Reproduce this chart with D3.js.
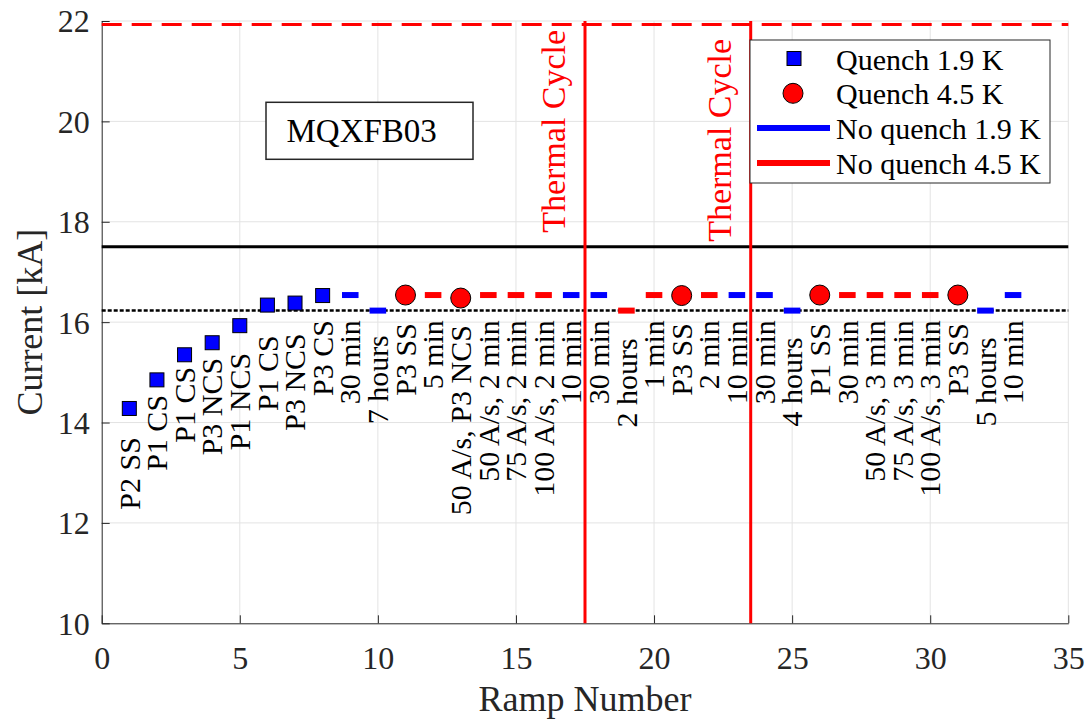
<!DOCTYPE html>
<html>
<head>
<meta charset="utf-8">
<script src="https://cdn.jsdelivr.net/npm/d3@7"></script>
<style>
	body { margin: 0; background: #fff; }
	svg { display: block; }
	svg text { font-family: "Liberation Serif", "Times New Roman", "DejaVu Serif", serif; }
</style>
</head>
<body>
<div id="graph"></div>
<script>
// quench / no-quench currents per ramp
const quench19Ramp = [1, 2, 3, 4, 5, 6, 7, 8];
const quench19Current = [14.28, 14.85, 15.35, 15.59, 15.93, 16.34, 16.38, 16.53];
const quench45Ramp = [11, 13, 21, 26, 31];
const quench45Current = [16.54, 16.48, 16.53, 16.54, 16.54];
const noQuench19Ramp = [9, 10, 17, 18, 23, 24, 25, 32, 33];
const noQuench19Current = [16.54, 16.23, 16.54, 16.54, 16.54, 16.54, 16.23, 16.23, 16.54];
const noQuench45Ramp = [12, 14, 15, 16, 19, 20, 22, 27, 28, 29, 30];
const noQuench45Current = [16.54, 16.54, 16.54, 16.54, 16.23, 16.54, 16.54, 16.54, 16.54, 16.54, 16.54];

// reference levels
const nominalCurrent = 16.23;
const ultimateCurrent = 17.5;
const limitCurrent = 21.93;

// thermal cycles
const thermalRamp = [17.5, 23.5];
const thermalLabelAt = [17.78, 17.6];

// text under each ramp
const rampLabels = [
	"P2 SS", "P1 CS", "P1 CS", "P3 NCS", "P1 NCS", "P1 CS", "P3 NCS", "P3 CS",
	"30 min", "7 hours", "P3 SS", "5 min", "50 A/s, P3 NCS", "50 A/s, 2 min",
	"75 A/s, 2 min", "100 A/s, 2 min", "10 min", "30 min", "2 hours", "1 min",
	"P3 SS", "2 min", "10 min", "30 min", "4 hours", "P1 SS", "30 min",
	"50 A/s, 3 min", "75 A/s, 3 min", "100 A/s, 3 min", "P3 SS", "5 hours", "10 min"
];
const rampLabelAt = [
	13.71, 14.55, 15.11, 15.29, 15.39, 15.74, 15.78, 16.04, 16.04, 15.74,
	15.98, 16.04, 15.94, 16.04, 16.04, 16.04, 16.04, 16.04, 15.68, 16.04,
	15.98, 16.04, 16.04, 16.04, 15.70, 15.98, 16.04, 16.04, 16.04, 16.04,
	15.98, 15.70, 16.04
];

const xTicks = [0, 5, 10, 15, 20, 25, 30, 35];
const yTicks = [10, 12, 14, 16, 18, 20, 22];

const legendNames = ["Quench 1.9 K", "Quench 4.5 K", "No quench 1.9 K", "No quench 4.5 K"];
const magnetName = "MQXFB03";

function chart() {
	const width = 1086;
	const height = 721;
	const ink = "#262626";

	const x = d3.scaleLinear([0, 35], [101.7, 1068.3]);
	const y = d3.scaleLinear([10, 22], [623.3, 21]);

	const svg = d3
		.select("#graph")
		.append("svg")
		.attr("width", width)
		.attr("height", height)
		.attr("viewBox", [0, 0, width, height]);

	// grid
	svg
		.append("g")
		.attr("stroke", "#e3e3e3")
		.attr("stroke-width", 1)
		.call((g) =>
			g.selectAll(".gx").data(xTicks.slice(1)).join("line")
				.attr("x1", (d) => x(d)).attr("x2", (d) => x(d))
				.attr("y1", y(10)).attr("y2", y(22))
		)
		.call((g) =>
			g.selectAll(".gy").data(yTicks.slice(1)).join("line")
				.attr("class", "gy")
				.attr("x1", x(0)).attr("x2", x(35))
				.attr("y1", (d) => y(d)).attr("y2", (d) => y(d))
		);

	// axes
	const xAxis = d3.axisBottom(x).tickValues(xTicks).tickSize(-8).tickPadding(20).tickSizeOuter(0);
	const yAxis = d3.axisLeft(y).tickValues(yTicks).tickSize(-8).tickPadding(12).tickSizeOuter(0);

	svg
		.append("g")
		.attr("transform", `translate(0,${y(10)})`)
		.call(xAxis)
		.call((g) => g.select(".domain").attr("stroke", ink))
		.call((g) => g.selectAll(".tick line").attr("stroke", ink))
		.call((g) =>
			g.selectAll(".tick text")
				.attr("fill", ink)
				.attr("font-size", 32)
				.attr("dy", null)
				.attr("y", 46)
		);

	svg
		.append("g")
		.attr("transform", `translate(${x(0)},0)`)
		.call(yAxis)
		.call((g) => g.select(".domain").attr("stroke", ink))
		.call((g) => g.selectAll(".tick line").attr("stroke", ink))
		.call((g) =>
			g.selectAll(".tick text")
				.attr("fill", ink)
				.attr("font-size", 32)
				.attr("dy", "0.34em")
		);

	svg
		.append("text")
		.attr("x", (x(0) + x(35)) / 2)
		.attr("y", 711)
		.attr("text-anchor", "middle")
		.attr("font-size", 36)
		.attr("fill", ink)
		.text("Ramp Number");

	svg
		.append("text")
		.attr("transform", `translate(42,${(y(10) + y(22)) / 2}) rotate(-90)`)
		.attr("text-anchor", "middle")
		.attr("font-size", 36)
		.attr("fill", ink)
		.text("Current [kA]");

	// reference lines
	svg.append("line")
		.attr("x1", x(0)).attr("x2", x(35))
		.attr("y1", y(limitCurrent)).attr("y2", y(limitCurrent))
		.attr("stroke", "#ff0000").attr("stroke-width", 3)
		.attr("stroke-dasharray", "20,10");

	svg.append("line")
		.attr("x1", x(0)).attr("x2", x(35))
		.attr("y1", y(ultimateCurrent)).attr("y2", y(ultimateCurrent))
		.attr("stroke", "#000").attr("stroke-width", 3);

	svg.append("line")
		.attr("x1", x(0)).attr("x2", x(35))
		.attr("y1", y(nominalCurrent)).attr("y2", y(nominalCurrent))
		.attr("stroke", "#000").attr("stroke-width", 2.5)
		.attr("stroke-dasharray", "4,2");

	// thermal cycles
	svg
		.append("g")
		.selectAll("line")
		.data(thermalRamp)
		.join("line")
		.attr("x1", (d) => x(d)).attr("x2", (d) => x(d))
		.attr("y1", y(10)).attr("y2", y(22))
		.attr("stroke", "#ff0000").attr("stroke-width", 3);

	svg
		.append("g")
		.selectAll("text")
		.data(thermalRamp)
		.join("text")
		.attr("transform", (d, i) => `translate(${x(d) - 20},${y(thermalLabelAt[i])}) rotate(-90)`)
		.attr("font-size", 34)
		.attr("fill", "#ff0000")
		.text("Thermal Cycle");

	// ramp labels
	svg
		.append("g")
		.attr("font-size", 30)
		.attr("fill", "#000")
		.attr("text-anchor", "end")
		.selectAll("text")
		.data(rampLabels)
		.join("text")
		.attr("transform", (d, i) => `translate(${x(i + 1)},${y(rampLabelAt[i])}) rotate(-90)`)
		.attr("dy", "0.34em")
		.text((d) => d);

	// no quench segments
	const seg = (ramps, vals, color) =>
		svg
			.append("g")
			.attr("stroke", color)
			.attr("stroke-width", 6)
			.selectAll("line")
			.data(ramps)
			.join("line")
			.attr("x1", (d) => x(d - 0.3))
			.attr("x2", (d) => x(d + 0.3))
			.attr("y1", (d, i) => y(vals[i]))
			.attr("y2", (d, i) => y(vals[i]));

	seg(noQuench19Ramp, noQuench19Current, "#0000ff");
	seg(noQuench45Ramp, noQuench45Current, "#ff0000");

	// quench markers
	svg
		.append("g")
		.attr("fill", "#0000ff")
		.attr("stroke", "#000")
		.attr("stroke-width", 1)
		.selectAll("rect")
		.data(quench19Ramp)
		.join("rect")
		.attr("x", (d) => x(d) - 7)
		.attr("y", (d, i) => y(quench19Current[i]) - 7)
		.attr("width", 14)
		.attr("height", 14);

	svg
		.append("g")
		.attr("fill", "#ff0000")
		.attr("stroke", "#000")
		.attr("stroke-width", 1)
		.selectAll("circle")
		.data(quench45Ramp)
		.join("circle")
		.attr("cx", (d) => x(d))
		.attr("cy", (d, i) => y(quench45Current[i]))
		.attr("r", 10);

	// magnet name box
	const nameBox = svg.append("g");
	nameBox.append("rect")
		.attr("x", 266).attr("y", 102.3)
		.attr("width", 207).attr("height", 57)
		.attr("fill", "#fff").attr("stroke", ink).attr("stroke-width", 1.5);
	nameBox.append("text")
		.attr("x", 286.5).attr("y", 141.7)
		.attr("font-size", 33)
		.attr("fill", "#000")
		.text(magnetName);

	// legend
	const legend = svg.append("g");
	legend.append("rect")
		.attr("x", 750).attr("y", 40)
		.attr("width", 300).attr("height", 143)
		.attr("fill", "#fff").attr("stroke", ink).attr("stroke-width", 1);

	const rowY = (i) => 58.5 + i * 34.8;

	legend.append("rect")
		.attr("x", 787).attr("y", rowY(0) - 7)
		.attr("width", 14).attr("height", 14)
		.attr("fill", "#0000ff").attr("stroke", "#000");
	legend.append("circle")
		.attr("cx", 793).attr("cy", rowY(1))
		.attr("r", 10)
		.attr("fill", "#ff0000").attr("stroke", "#000");
	legend.append("line")
		.attr("x1", 757).attr("x2", 830)
		.attr("y1", rowY(2)).attr("y2", rowY(2))
		.attr("stroke", "#0000ff").attr("stroke-width", 6);
	legend.append("line")
		.attr("x1", 757).attr("x2", 830)
		.attr("y1", rowY(3)).attr("y2", rowY(3))
		.attr("stroke", "#ff0000").attr("stroke-width", 6);

	legend
		.selectAll("text")
		.data(legendNames)
		.join("text")
		.attr("x", 836)
		.attr("y", (d, i) => rowY(i) + 11)
		.attr("font-size", 30)
		.attr("fill", "#000")
		.text((d) => d);
}

chart();
</script>
</body>
</html>
